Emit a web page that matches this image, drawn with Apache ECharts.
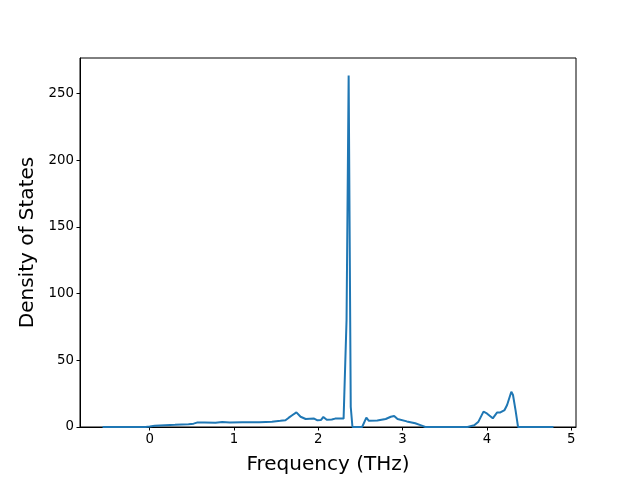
<!DOCTYPE html>
<html>
<head>
<meta charset="utf-8">
<script src="https://cdn.jsdelivr.net/npm/echarts@6/dist/echarts.min.js"></script>
<style>html,body{margin:0;padding:0;background:#fff}#c{width:640px;height:480px}</style>
</head>
<body>
<div id="c"></div>
<script>
const freq = [-0.56,-0.05,0.0,0.06,0.18,0.3,0.46,0.52,0.56,0.65,0.78,0.86,0.95,1.1,1.3,1.45,1.55,1.61,1.65,1.69,1.71,1.74,1.79,1.85,1.95,1.99,2.03,2.06,2.1,2.16,2.2,2.3,2.335,2.36,2.385,2.405,2.52,2.57,2.6,2.7,2.8,2.86,2.9,2.94,3.05,3.15,3.22,3.27,3.77,3.85,3.9,3.96,4.0,4.07,4.12,4.16,4.21,4.24,4.29,4.31,4.34,4.37,4.79];
const dos = [0,0,0.3,0.9,1.4,1.6,2.0,2.5,3.3,3.4,3.2,3.7,3.4,3.5,3.6,4.0,4.6,5.0,7.0,8.8,8.2,11.0,7.7,6.0,6.3,5.0,5.2,7.5,5.5,5.6,6.3,6.3,80,263.5,15,0,0,7,4.6,4.8,6.0,7.7,8.3,6.0,4.2,2.8,1.2,0,0,1.3,4,11.5,10.2,6.5,10.8,10.9,12.7,16.5,26.4,24,12.7,0,0];
const xTicks = [0,1,2,3,4,5];
const yTicks = [0,50,100,150,200,250];
const xLabel = 'Frequency (THz)';
const yLabel = 'Density of States';

const xmin = -0.8275, xmax = 5.0575, ymin = 0, ymax = 276.7;
const font = 'DejaVu Sans';
const chart = echarts.init(document.getElementById('c'), null, {renderer: 'canvas'});
chart.setOption({
  animation: false,
  grid: {left: 80, right: 64, top: 58, bottom: 53, show: true, borderColor: '#000', borderWidth: 1, backgroundColor: 'transparent'},
  xAxis: {
    type: 'value', min: xmin, max: xmax,
    name: xLabel, nameLocation: 'middle', nameGap: 28,
    nameTextStyle: {fontFamily: font, fontSize: 20, color: '#000'},
    axisLine: {show: true, onZero: false, lineStyle: {color: '#000', width: 1}},
    axisTick: {show: true, inside: false, length: 3.5, lineStyle: {color: '#000'}, customValues: xTicks},
    axisLabel: {fontFamily: font, fontSize: 13.33, color: '#000', margin: 6, customValues: xTicks},
    splitLine: {show: false}
  },
  yAxis: {
    type: 'value', min: ymin, max: ymax,
    name: yLabel, nameLocation: 'middle', nameGap: 41,
    nameTextStyle: {fontFamily: font, fontSize: 20, color: '#000'},
    axisLine: {show: true, onZero: false, lineStyle: {color: '#000', width: 1}},
    axisTick: {show: true, inside: false, length: 3.5, lineStyle: {color: '#000'}, customValues: yTicks},
    axisLabel: {fontFamily: font, fontSize: 13.33, color: '#000', margin: 6, customValues: yTicks},
    splitLine: {show: false}
  },
  series: [{
    type: 'line',
    data: freq.map((f, i) => [f, dos[i]]),
    showSymbol: false,
    lineStyle: {color: '#1f77b4', width: 2},
    itemStyle: {color: '#1f77b4'}
  }]
});
</script>
</body>
</html>
